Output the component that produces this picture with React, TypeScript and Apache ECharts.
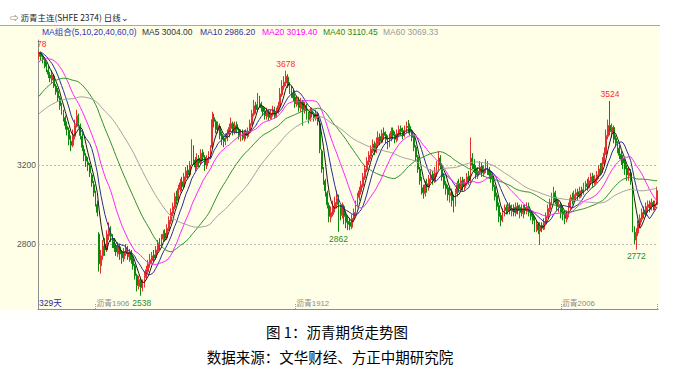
import React, { useEffect, useRef } from 'react';
import * as echarts from 'echarts';

// 60 closes before the first visible day (needed for the moving averages)
const priorCloses = [
  3250, 3240, 3260, 3280, 3270, 3250, 3290, 3310, 3300, 3280,
  3260, 3270, 3290, 3300, 3320, 3300, 3280, 3290, 3310, 3270,
  3260, 3280, 3250, 3290, 3300, 3320, 3310, 3340, 3330, 3360,
  3350, 3380, 3370, 3400, 3410, 3430, 3420, 3450, 3460, 3480,
  3540, 3600, 3640, 3620, 3660, 3690, 3670, 3700, 3720, 3710,
  3740, 3760, 3750, 3780, 3770, 3790, 3760, 3780, 3770, 3760,
];

// [open, close, low, high] for the 329 visible days
const candles: number[][] = [
  [3750,3765,3735,3778],[3770,3750,3730,3775],[3745,3735,3715,3760],[3730,3700,3690,3745],[3705,3690,3670,3720],[3680,3660,3640,3700],[3655,3640,3620,3670],[3630,3655,3615,3680],[3650,3600,3590,3660],[3600,3570,3555,3610],
  [3575,3540,3520,3590],[3540,3500,3480,3550],[3500,3470,3455,3515],[3465,3440,3420,3480],[3440,3400,3380,3450],[3395,3380,3350,3420],[3375,3330,3300,3390],[3320,3300,3270,3350],[3300,3350,3290,3380],[3345,3400,3330,3430],
  [3400,3450,3390,3480],[3445,3410,3395,3460],[3400,3350,3330,3410],[3345,3290,3270,3360],[3280,3250,3220,3300],[3245,3220,3190,3260],[3215,3200,3170,3240],[3195,3160,3140,3210],[3150,3110,3090,3160],[3100,3060,3040,3120],
  [3050,3010,2990,3070],[3000,2960,2940,3020],[2850,2700,2660,2860],[2690,2740,2650,2770],[2740,2790,2720,2820],[2800,2770,2740,2830],[2770,2850,2760,2870],[2840,2880,2820,2910],[2875,2830,2810,2890],[2830,2800,2780,2850],
  [2810,2780,2760,2830],[2790,2760,2740,2800],[2750,2790,2735,2810],[2785,2750,2720,2800],[2760,2730,2700,2770],[2725,2760,2710,2780],[2750,2780,2740,2800],[2775,2740,2720,2790],[2735,2760,2710,2775],[2760,2720,2700,2770],
  [2725,2690,2670,2740],[2690,2640,2620,2700],[2640,2590,2560,2650],[2585,2620,2570,2640],[2615,2580,2538,2630],[2570,2600,2560,2620],[2595,2640,2580,2660],[2630,2670,2620,2690],[2660,2700,2650,2720],[2700,2720,2680,2750],
  [2715,2740,2700,2760],[2745,2730,2710,2770],[2730,2770,2720,2790],[2765,2800,2750,2820],[2805,2790,2770,2830],[2790,2830,2780,2850],[2825,2850,2810,2870],[2855,2830,2815,2875],[2830,2880,2820,2900],[2875,2920,2865,2940],
  [2915,2960,2900,2980],[2955,2990,2940,3010],[2985,3040,2975,3060],[3045,3020,3000,3070],[3020,3080,3010,3100],[3075,3110,3060,3130],[3115,3090,3070,3140],[3090,3140,3080,3160],[3135,3170,3120,3190],[3175,3150,3130,3200],
  [3150,3200,3140,3220],[3210,3290,3200,3330],[3280,3220,3200,3300],[3225,3190,3170,3240],[3190,3230,3180,3260],[3235,3210,3190,3250],[3210,3260,3200,3280],[3265,3240,3220,3280],[3240,3200,3170,3250],[3195,3230,3180,3250],
  [3225,3250,3210,3270],[3245,3280,3230,3300],[3290,3430,3280,3470],[3440,3420,3390,3460],[3420,3380,3360,3430],[3375,3400,3360,3420],[3395,3350,3330,3410],[3355,3330,3300,3370],[3335,3320,3290,3350],[3315,3340,3300,3360],
  [3335,3360,3320,3380],[3355,3390,3340,3410],[3385,3410,3370,3440],[3410,3370,3350,3420],[3365,3400,3355,3420],[3405,3380,3360,3420],[3380,3350,3330,3390],[3345,3360,3320,3380],[3365,3340,3325,3380],[3335,3360,3320,3375],
  [3365,3350,3330,3380],[3345,3370,3335,3390],[3365,3410,3360,3430],[3405,3460,3400,3480],[3455,3500,3445,3530],[3505,3480,3460,3520],[3480,3530,3470,3565],[3535,3510,3490,3550],[3510,3490,3470,3520],[3495,3470,3450,3500],
  [3475,3450,3430,3490],[3445,3470,3430,3490],[3470,3440,3425,3480],[3435,3460,3430,3480],[3455,3480,3445,3500],[3485,3450,3435,3495],[3445,3470,3440,3490],[3465,3500,3460,3520],[3495,3560,3490,3590],[3555,3600,3545,3630],
  [3595,3620,3580,3650],[3615,3650,3600,3678],[3645,3600,3590,3660],[3605,3580,3560,3620],[3585,3560,3540,3600],[3565,3540,3520,3580],[3545,3510,3490,3560],[3505,3530,3495,3550],[3530,3490,3470,3545],[3485,3520,3470,3540],
  [3520,3480,3400,3530],[3475,3500,3460,3520],[3500,3450,3430,3510],[3455,3430,3410,3470],[3430,3470,3420,3490],[3475,3460,3440,3490],[3460,3440,3420,3470],[3435,3460,3425,3480],[3460,3420,3400,3470],[3410,3280,3260,3420],
  [3270,3180,3160,3280],[3175,3120,3100,3190],[3120,3070,3040,3130],[3060,3000,2980,3070],[2995,2940,2910,3010],[2935,2960,2910,2990],[2950,2990,2940,3020],[2985,3010,2960,3040],[3000,3030,2980,3070],[3030,2980,2862,3050],
  [2985,2950,2920,3000],[2945,2990,2930,3010],[2990,2940,2900,3000],[2945,2910,2880,2960],[2915,2900,2870,2940],[2910,2890,2870,2930],[2885,2930,2875,2950],[2925,2960,2910,2980],[2955,3000,2945,3020],[2995,3040,2985,3060],
  [3035,3070,3020,3090],[3065,3100,3050,3120],[3095,3140,3085,3160],[3135,3180,3125,3200],[3175,3220,3165,3240],[3215,3250,3200,3270],[3245,3280,3230,3300],[3275,3300,3260,3330],[3305,3270,3250,3320],[3265,3310,3260,3340],
  [3305,3340,3290,3370],[3345,3320,3300,3360],[3315,3360,3310,3380],[3365,3350,3330,3390],[3355,3330,3310,3370],[3335,3300,3280,3350],[3295,3340,3290,3360],[3335,3370,3320,3390],[3375,3350,3330,3390],[3355,3330,3310,3370],
  [3325,3360,3315,3380],[3355,3380,3340,3400],[3385,3370,3350,3400],[3375,3350,3330,3390],[3345,3380,3340,3400],[3375,3400,3360,3420],[3395,3390,3360,3428],[3395,3370,3350,3410],[3370,3340,3320,3380],[3340,3290,3270,3350],
  [3290,3240,3220,3300],[3240,3180,3160,3250],[3180,3120,3100,3190],[3125,3080,3050,3140],[3085,3060,3030,3100],[3055,3100,3040,3120],[3105,3090,3060,3130],[3085,3130,3070,3150],[3125,3150,3110,3180],[3155,3120,3100,3170],
  [3115,3160,3110,3190],[3155,3190,3140,3220],[3185,3230,3170,3270],[3235,3200,3180,3250],[3200,3140,3120,3210],[3145,3100,3080,3160],[3105,3080,3050,3120],[3085,3050,3020,3100],[3045,3060,3010,3090],[3065,3020,2990,3080],
  [3030,3000,2960,3050],[3000,3060,2990,3080],[3055,3100,3040,3120],[3105,3080,3060,3130],[3075,3120,3070,3140],[3125,3090,3070,3140],[3085,3110,3070,3130],[3105,3140,3095,3160],[3145,3120,3100,3170],[3120,3230,3110,3340],
  [3235,3200,3180,3260],[3205,3180,3160,3230],[3185,3150,3130,3200],[3145,3170,3130,3190],[3165,3190,3150,3220],[3195,3160,3140,3210],[3155,3180,3140,3200],[3175,3200,3160,3230],[3205,3170,3150,3220],[3175,3150,3130,3190],
  [3155,3130,3110,3170],[3135,3090,3070,3150],[3090,3040,3020,3100],[3045,2990,2970,3060],[2995,2940,2910,3010],[2945,2920,2890,2960],[2925,2960,2910,2980],[2955,2980,2940,3000],[2985,2970,2950,3000],[2965,2990,2950,3010],
  [2995,2970,2950,3010],[2965,2980,2940,3000],[2985,2960,2940,3000],[2955,2990,2940,3010],[2995,2970,2950,3010],[2965,2980,2930,3000],[2985,2960,2940,3000],[2955,2980,2930,3000],[2985,2970,2950,3000],[2965,2990,2950,3010],
  [2990,2960,2940,3010],[2965,2940,2920,2980],[2945,2920,2900,2960],[2925,2880,2860,2940],[2875,2900,2860,2920],[2900,2870,2850,2910],[2865,2890,2795,2910],[2895,2880,2860,2910],[2875,2910,2870,2930],[2905,2940,2900,2960],
  [2935,2980,2930,3000],[2975,3010,2960,3030],[3005,3040,2995,3060],[3030,3060,3010,3090],[3060,3020,3000,3070],[3025,2990,2970,3040],[2985,3000,2960,3020],[3000,2960,2930,3010],[2965,2950,2920,2990],[2955,2930,2900,2970],
  [2925,2950,2910,2970],[2945,2990,2935,3010],[2985,3030,2975,3050],[3035,3020,3000,3060],[3015,3050,3010,3070],[3045,3060,3030,3080],[3065,3040,3020,3080],[3035,3070,3030,3090],[3075,3060,3040,3090],[3055,3090,3050,3110],
  [3085,3100,3070,3120],[3105,3090,3070,3130],[3085,3120,3080,3140],[3115,3140,3100,3160],[3145,3110,3090,3160],[3105,3130,3100,3150],[3125,3150,3110,3170],[3145,3180,3130,3200],[3185,3170,3150,3210],[3165,3210,3160,3240],
  [3205,3260,3195,3290],[3255,3350,3250,3380],[3345,3400,3330,3430],[3400,3370,3350,3524],[3365,3390,3340,3410],[3390,3330,3310,3400],[3335,3310,3290,3350],[3310,3280,3260,3320],[3285,3250,3230,3300],[3255,3230,3200,3270],
  [3235,3210,3180,3250],[3215,3180,3150,3230],[3185,3150,3120,3200],[3145,3160,3120,3190],[3160,3120,3100,3180],[3100,2880,2860,3110],[2870,2830,2800,2890],[2820,2860,2772,2880],[2855,2900,2840,2920],[2895,2930,2880,2950],
  [2925,2960,2910,2980],[2965,2950,2930,2990],[2945,2990,2940,3010],[2985,3000,2960,3020],[3005,2980,2960,3020],[2975,3010,2970,3030],[3010,2990,2970,3020],[2985,3000,2970,3020],[3000,3070,2995,3090],
];

const maPeriods = [5, 10, 20, 40, 60];
const maNames = ['MA5', 'MA10', 'MA20', 'MA40', 'MA60'];
const legendTexts = ['MA组合(5,10,20,40,60,0)', 'MA5 3004.00', 'MA10 2986.20', 'MA20 3019.40', 'MA40 3110.45', 'MA60 3069.33'];
const yTicks = [3200, 2800];
const contractTickIdx = [30, 136, 277];
const contractNames = ['沥青1906', '沥青1912', '沥青2006'];
const lastTickIdx = 328;
// extreme labels: [day index, value, above?]
const extremes: [number, number, boolean][] = [
  [0, 3778, true], [131, 3678, true], [303, 3524, true],
  [54, 2538, false], [159, 2862, false], [317, 2772, false],
];
const dayCountText = '329天';
const headerText = '⇨ 沥青主连(SHFE 2374) 日线⌄';
const captionTitle = '图 1：沥青期货走势图';
const captionSource = '数据来源：文华财经、方正中期研究院';

const FONT = '"Liberation Sans", Arial, "Noto Sans CJK SC", sans-serif';
const CJK = '"Noto Sans CJK SC", "Liberation Sans", sans-serif';
const YMIN = 2471;
const YMAX = 3833;

const maColors = ['#1a1a1a', '#2b2b9c', '#ff22ff', '#2f8f2f', '#a0a0a0'];
const legendColors = ['#3333bb', '#333333', '#333399', '#ff00ff', '#228b22', '#999999'];
const legendX = [42, 142, 200, 262, 323, 383];

function movingAverage(period: number): (number | string)[] {
  const all = priorCloses.concat(candles.map((c) => c[1]));
  const off = priorCloses.length;
  return candles.map((_, i) => {
    let s = 0;
    for (let k = 0; k < period; k++) s += all[off + i - k];
    return +(s / period).toFixed(2);
  });
}

export default function App() {
  const ref = useRef<HTMLDivElement>(null);
  useEffect(() => {
    if (!ref.current) return;
    const chart = echarts.init(ref.current, undefined, { renderer: 'svg' });
    const days = candles.map((_, i) => String(i + 1));
    const tickSet = new Set(contractTickIdx.concat([lastTickIdx]));

    const maSeries = maPeriods.map((p, k) => ({
      name: maNames[k],
      type: 'line',
      data: movingAverage(p),
      showSymbol: false,
      symbol: 'none',
      smooth: false,
      lineStyle: { width: 1, color: maColors[k] },
      z: 3,
      silent: true,
    }));

    const graphic: any[] = [
      { type: 'rect', z: -10, silent: true, shape: { x: 0, y: 25, width: 660, height: 285 }, style: { fill: '#ffffe8' } },
      { type: 'line', z: -5, silent: true, shape: { x1: 0, y1: 25.5, x2: 660, y2: 25.5 }, style: { stroke: '#a8a8a8', lineWidth: 1 } },
      { type: 'text', x: 10, y: 17, style: { text: headerText, fill: '#222', font: `8.5px ${CJK}`, verticalAlign: 'middle' } },
      ...legendTexts.map((t, k) => ({
        type: 'text', x: legendX[k], y: 32, z: 10,
        style: { text: t, fill: legendColors[k], font: `8.5px ${FONT}`, verticalAlign: 'middle' },
      })),
      { type: 'rect', z: 100, silent: true, shape: { x: 0, y: 36, width: 37.5, height: 14 }, style: { fill: '#ffffe8' } },
      { type: 'text', x: 39, y: 303, z: 10, style: { text: dayCountText, fill: '#2b2b9c', font: `8.5px ${FONT}`, verticalAlign: 'middle' } },
      { type: 'text', x: 337, y: 331, style: { text: captionTitle, fill: '#000', font: `14.5px ${CJK}`, align: 'center', verticalAlign: 'middle' } },
      { type: 'text', x: 330, y: 356, style: { text: captionSource, fill: '#000', font: `14.5px ${CJK}`, align: 'center', verticalAlign: 'middle' } },
    ];

    chart.setOption({
      animation: false,
      backgroundColor: '#ffffff',
      textStyle: { fontFamily: FONT },
      grid: { left: 38, right: 16, top: 40, bottom: 66, containLabel: false },
      xAxis: {
        type: 'category',
        data: days,
        boundaryGap: true,
        axisLine: { show: true, lineStyle: { color: '#8c8c8c', width: 1 } },
        axisTick: {
          show: true,
          inside: true,
          length: 6,
          alignWithLabel: true,
          interval: (idx: number) => tickSet.has(idx),
          lineStyle: { color: '#999', type: [1, 1] },
        },
        axisLabel: {
          show: true,
          inside: true,
          interval: (idx: number) => contractTickIdx.includes(idx),
          formatter: (_v: string, idx: number) => {
            const j = contractTickIdx.indexOf(idx);
            return j >= 0 ? contractNames[j] : '';
          },
          align: 'left',
          margin: 2,
          padding: [0, 0, 0, 1],
          color: '#8a8a8a',
          fontSize: 7.8,
          fontFamily: FONT,
        },
        splitLine: { show: false },
      },
      yAxis: {
        type: 'value',
        min: YMIN,
        max: YMAX,
        axisLine: { show: true, lineStyle: { color: '#8c8c8c', width: 1 } },
        axisTick: { show: false },
        axisLabel: { show: false },
        splitLine: { show: false },
      },
      series: [
        {
          name: 'K',
          type: 'candlestick',
          data: candles,
          barWidth: '70%',
          itemStyle: {
            color: '#f25c5c',
            color0: '#0a8a0a',
            borderColor: '#e63030',
            borderColor0: '#0a8a0a',
            borderWidth: 1,
          },
          z: 2,
          markLine: {
            silent: true,
            symbol: ['none', 'none'],
            lineStyle: { color: '#b8b8b8', type: [2, 2], width: 1 },
            label: { show: true, position: 'start', distance: 2, formatter: '{c}', color: '#555', fontSize: 8.5, fontFamily: FONT },
            data: yTicks.map((v) => ({ yAxis: v })),
            z: 1,
          },
          markPoint: {
            silent: true,
            symbol: 'circle',
            symbolSize: 1,
            itemStyle: { color: 'rgba(0,0,0,0)' },
            data: extremes.map(([i, v, above]) => ({
              coord: [days[i], v],
              value: v,
              label: {
                show: true,
                formatter: String(v),
                position: above ? 'top' : 'bottom',
                distance: 2,
                offset: i === 0 ? [-2, 0] : i === 54 ? [1, 0] : [0, 0],
                color: above ? '#ff2a2a' : '#2a8a2a',
                fontSize: 8.5,
                fontFamily: FONT,
              },
            })),
          },
        },
        ...maSeries,
      ],
      graphic,
    });
    return () => chart.dispose();
  }, []);
  return <div ref={ref} style={{ position: 'fixed', left: 0, top: 0, width: 674, height: 375 }} />;
}
